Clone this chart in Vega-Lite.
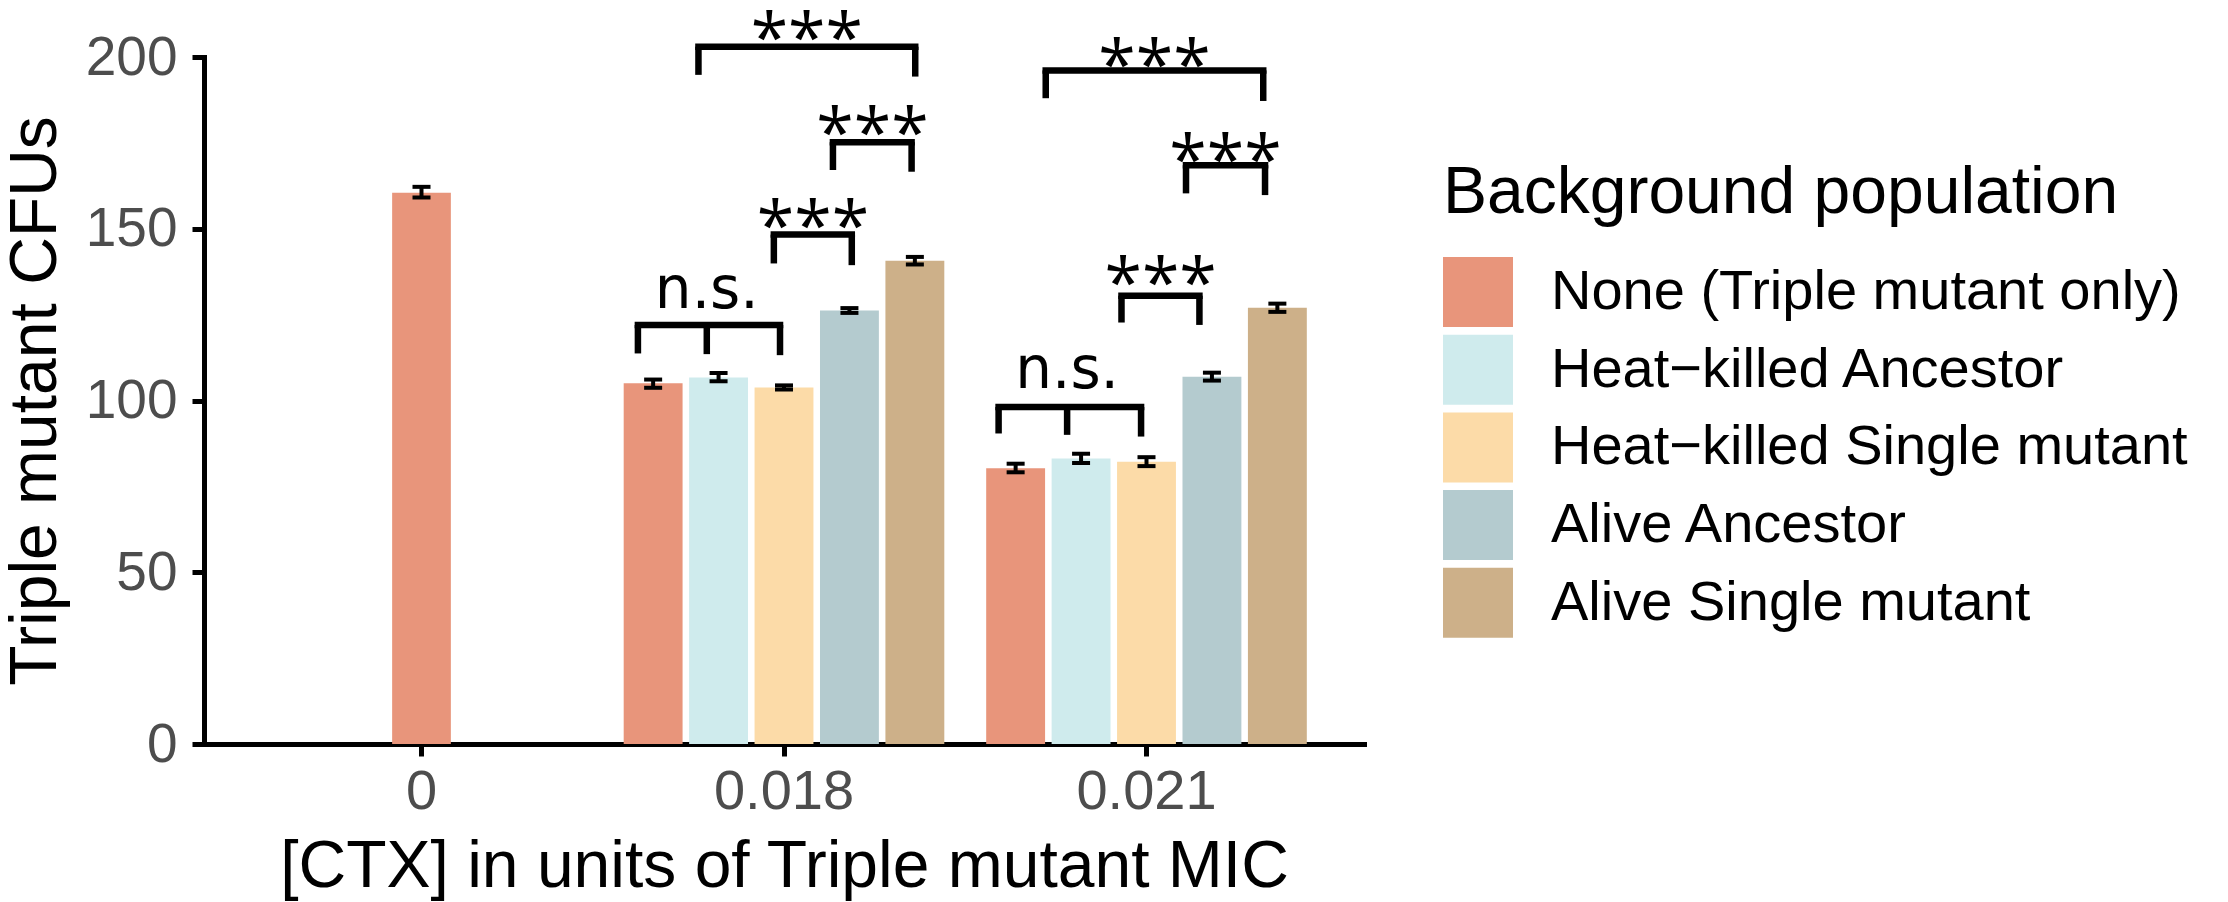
{
  "$schema": "https://vega.github.io/schema/vega-lite/v6.json",
  "width": 1160,
  "height": 687,
  "autosize": {"type": "none"},
  "padding": {"left": 204, "top": 57, "right": 864, "bottom": 158},
  "background": "white",
  "config": {"view": {"stroke": null}, "font": "Liberation Sans"},
  "datasets": {
    "bars": [
      {"ctx": "0", "population": "None (Triple mutant only)", "cfu": 160.5, "lo": 159.1, "hi": 162.2},
      {"ctx": "0.018", "population": "None (Triple mutant only)", "cfu": 105.0, "lo": 103.7, "hi": 106.1},
      {"ctx": "0.018", "population": "Heat−killed Ancestor", "cfu": 106.7, "lo": 105.6, "hi": 108.0},
      {"ctx": "0.018", "population": "Heat−killed Single mutant", "cfu": 103.8, "lo": 103.2, "hi": 104.4},
      {"ctx": "0.018", "population": "Alive Ancestor", "cfu": 126.2, "lo": 125.5, "hi": 126.9},
      {"ctx": "0.018", "population": "Alive Single mutant", "cfu": 140.7, "lo": 139.6, "hi": 141.8},
      {"ctx": "0.021", "population": "None (Triple mutant only)", "cfu": 80.3, "lo": 79.1, "hi": 81.6},
      {"ctx": "0.021", "population": "Heat−killed Ancestor", "cfu": 83.1, "lo": 81.8, "hi": 84.5},
      {"ctx": "0.021", "population": "Heat−killed Single mutant", "cfu": 82.2, "lo": 80.9, "hi": 83.5},
      {"ctx": "0.021", "population": "Alive Ancestor", "cfu": 106.9, "lo": 105.8, "hi": 108.1},
      {"ctx": "0.021", "population": "Alive Single mutant", "cfu": 127.0, "lo": 125.8, "hi": 128.2}
    ],
    "hbars": [
      {"ctx": "0.018", "xmin": 1.597, "xmax": 1.989, "y": 122.0},
      {"ctx": "0.018", "xmin": 1.972, "xmax": 2.187, "y": 148.3},
      {"ctx": "0.018", "xmin": 2.135, "xmax": 2.352, "y": 175.2},
      {"ctx": "0.018", "xmin": 1.764, "xmax": 2.362, "y": 203.0},
      {"ctx": "0.021", "xmin": 2.592, "xmax": 2.985, "y": 98.1},
      {"ctx": "0.021", "xmin": 2.931, "xmax": 3.146, "y": 130.5},
      {"ctx": "0.021", "xmin": 3.109, "xmax": 3.327, "y": 168.5},
      {"ctx": "0.021", "xmin": 2.722, "xmax": 3.322, "y": 196.1}
    ],
    "tips": [
      {"x": 1.597, "top": 122.0, "bottom": 113.7},
      {"x": 1.787, "top": 122.0, "bottom": 113.5},
      {"x": 1.989, "top": 122.0, "bottom": 113.2},
      {"x": 1.972, "top": 148.3, "bottom": 139.9},
      {"x": 2.187, "top": 148.3, "bottom": 139.4},
      {"x": 2.135, "top": 175.2, "bottom": 167.1},
      {"x": 2.352, "top": 175.2, "bottom": 166.6},
      {"x": 1.764, "top": 203.0, "bottom": 194.8},
      {"x": 2.362, "top": 203.0, "bottom": 194.3},
      {"x": 2.592, "top": 98.1, "bottom": 90.4},
      {"x": 2.781, "top": 98.1, "bottom": 90.0},
      {"x": 2.985, "top": 98.1, "bottom": 89.5},
      {"x": 2.931, "top": 130.5, "bottom": 122.7},
      {"x": 3.146, "top": 130.5, "bottom": 122.0},
      {"x": 3.109, "top": 168.5, "bottom": 160.3},
      {"x": 3.327, "top": 168.5, "bottom": 159.8},
      {"x": 2.722, "top": 196.1, "bottom": 188.0},
      {"x": 3.322, "top": 196.1, "bottom": 187.2}
    ],
    "labels": [
      {"x": 1.787, "y": 126.9, "label": "n.s."},
      {"x": 2.080, "y": 143.7, "label": "***"},
      {"x": 2.244, "y": 170.9, "label": "***"},
      {"x": 2.063, "y": 198.5, "label": "***"},
      {"x": 2.781, "y": 103.6, "label": "n.s."},
      {"x": 3.039, "y": 127.2, "label": "***"},
      {"x": 3.218, "y": 163.1, "label": "***"},
      {"x": 3.022, "y": 190.8, "label": "***"}
    ]
  },
  "layer": [
    {
      "data": {"name": "bars"},
      "encoding": {
        "x": {
          "field": "ctx",
          "type": "nominal",
          "title": "[CTX] in units of Triple mutant MIC",
          "scale": {"domain": ["0", "0.018", "0.021"], "paddingInner": 0, "paddingOuter": 0.1},
          "axis": {
            "labelAngle": 0,
            "grid": false,
            "domainColor": "black",
            "domainWidth": 5,
            "domainCap": "square",
            "tickColor": "black",
            "tickWidth": 5,
            "tickSize": 12,
            "labelFont": "Liberation Sans",
            "labelFontSize": 56,
            "labelColor": "#4d4d4d",
            "labelPadding": 8,
            "titleFont": "Liberation Sans",
            "titleFontSize": 66,
            "titleFontWeight": "normal",
            "titleColor": "black",
            "titlePadding": 15
          }
        },
        "y": {
          "field": "cfu",
          "type": "quantitative",
          "title": "Triple mutant CFUs",
          "scale": {"domain": [0, 200], "nice": false, "zero": true},
          "axis": {
            "values": [0, 50, 100, 150, 200],
            "grid": false,
            "domainColor": "black",
            "domainWidth": 5,
            "domainCap": "square",
            "tickColor": "black",
            "tickWidth": 5,
            "tickSize": 12,
            "labelFont": "Liberation Sans",
            "labelFontSize": 55,
            "labelColor": "#4d4d4d",
            "labelPadding": 15,
            "titleFont": "Liberation Sans",
            "titleFontSize": 66,
            "titleFontWeight": "normal",
            "titleColor": "black",
            "titlePadding": 16
          }
        }
      },
      "layer": [
        {
          "transform": [{"filter": "datum.ctx === '0'"}],
          "mark": {"type": "bar", "width": {"band": 0.162}},
          "encoding": {
            "color": {
              "field": "population",
              "type": "nominal",
              "scale": {
                "domain": ["None (Triple mutant only)", "Heat−killed Ancestor", "Heat−killed Single mutant", "Alive Ancestor", "Alive Single mutant"],
                "range": ["#E8957B", "#CFEBED", "#FCDBA8", "#B4CBCF", "#CDB089"]
              },
              "legend": {
                "orient": "none",
                "legendX": 1239,
                "legendY": 104,
                "title": "Background population",
                "titleFont": "Liberation Sans",
                "titleFontSize": 66,
                "titleFontWeight": "normal",
                "titleColor": "black",
                "titlePadding": 30,
                "titleLimit": 2000,
                "labelFont": "Liberation Sans",
                "labelFontSize": 56,
                "labelColor": "black",
                "labelOffset": 38,
                "labelLimit": 0,
                "symbolType": "square",
                "symbolSize": 4900,
                "symbolStrokeWidth": 0,
                "symbolOpacity": 1,
                "rowPadding": 7.7
              }
            }
          }
        },
        {
          "transform": [{"filter": "datum.ctx !== '0'"}],
          "mark": {"type": "bar"},
          "encoding": {
            "xOffset": {
              "field": "population",
              "type": "nominal",
              "scale": {
                "domain": ["None (Triple mutant only)", "Heat−killed Ancestor", "Heat−killed Single mutant", "Alive Ancestor", "Alive Single mutant"],
                "paddingInner": 0.1,
                "paddingOuter": 0.32
              }
            },
            "color": {"field": "population", "type": "nominal"}
          }
        },
        {
          "transform": [{"filter": "datum.ctx === '0'"}],
          "mark": {"type": "rule", "color": "black", "strokeWidth": 4},
          "encoding": {"y": {"field": "lo", "type": "quantitative", "title": "Triple mutant CFUs"}, "y2": {"field": "hi"}}
        },
        {
          "transform": [{"filter": "datum.ctx === '0'"}],
          "mark": {"type": "tick", "color": "black", "thickness": 4, "size": 18, "opacity": 1},
          "encoding": {"y": {"field": "lo", "type": "quantitative", "title": "Triple mutant CFUs"}}
        },
        {
          "transform": [{"filter": "datum.ctx === '0'"}],
          "mark": {"type": "tick", "color": "black", "thickness": 4, "size": 18, "opacity": 1},
          "encoding": {"y": {"field": "hi", "type": "quantitative", "title": "Triple mutant CFUs"}}
        },
        {
          "transform": [{"filter": "datum.ctx !== '0'"}],
          "mark": {"type": "rule", "color": "black", "strokeWidth": 4},
          "encoding": {
            "xOffset": {"field": "population", "type": "nominal"},
            "y": {"field": "lo", "type": "quantitative", "title": "Triple mutant CFUs"},
            "y2": {"field": "hi"}
          }
        },
        {
          "transform": [{"filter": "datum.ctx !== '0'"}],
          "mark": {"type": "tick", "color": "black", "thickness": 4, "size": 18, "opacity": 1},
          "encoding": {
            "xOffset": {"field": "population", "type": "nominal"},
            "y": {"field": "lo", "type": "quantitative", "title": "Triple mutant CFUs"}
          }
        },
        {
          "transform": [{"filter": "datum.ctx !== '0'"}],
          "mark": {"type": "tick", "color": "black", "thickness": 4, "size": 18, "opacity": 1},
          "encoding": {
            "xOffset": {"field": "population", "type": "nominal"},
            "y": {"field": "hi", "type": "quantitative", "title": "Triple mutant CFUs"}
          }
        }
      ]
    },
    {
      "layer": [
        {
          "data": {"name": "hbars"},
          "mark": {"type": "rule", "color": "black", "strokeWidth": 6.5, "strokeCap": "square"},
          "encoding": {
            "x": {"field": "xmin", "type": "quantitative", "scale": {"domain": [0.4, 3.6], "nice": false, "zero": false}, "axis": null},
            "x2": {"field": "xmax"},
            "y": {"field": "y", "type": "quantitative", "title": "Triple mutant CFUs"}
          }
        },
        {
          "data": {"name": "tips"},
          "mark": {"type": "rule", "color": "black", "strokeWidth": 6.5},
          "encoding": {
            "x": {"field": "x", "type": "quantitative", "scale": {"domain": [0.4, 3.6], "nice": false, "zero": false}, "axis": null},
            "y": {"field": "top", "type": "quantitative", "title": "Triple mutant CFUs"},
            "y2": {"field": "bottom"}
          }
        },
        {
          "data": {"name": "labels"},
          "transform": [{"filter": "datum.label === '***'"}],
          "mark": {"type": "text", "font": "Open Sans", "fontSize": 68, "baseline": "alphabetic", "align": "center", "color": "black"},
          "encoding": {
            "x": {"field": "x", "type": "quantitative", "scale": {"domain": [0.4, 3.6], "nice": false, "zero": false}, "axis": null},
            "y": {"field": "y", "type": "quantitative", "title": "Triple mutant CFUs"},
            "text": {"field": "label"}
          }
        },
        {
          "data": {"name": "labels"},
          "transform": [{"filter": "datum.label === 'n.s.'"}],
          "mark": {"type": "text", "font": "DejaVu Sans", "fontSize": 58, "baseline": "alphabetic", "align": "center", "color": "black"},
          "encoding": {
            "x": {"field": "x", "type": "quantitative", "scale": {"domain": [0.4, 3.6], "nice": false, "zero": false}, "axis": null},
            "y": {"field": "y", "type": "quantitative", "title": "Triple mutant CFUs"},
            "text": {"field": "label"}
          }
        }
      ]
    }
  ],
  "resolve": {"scale": {"x": "independent"}}
}
